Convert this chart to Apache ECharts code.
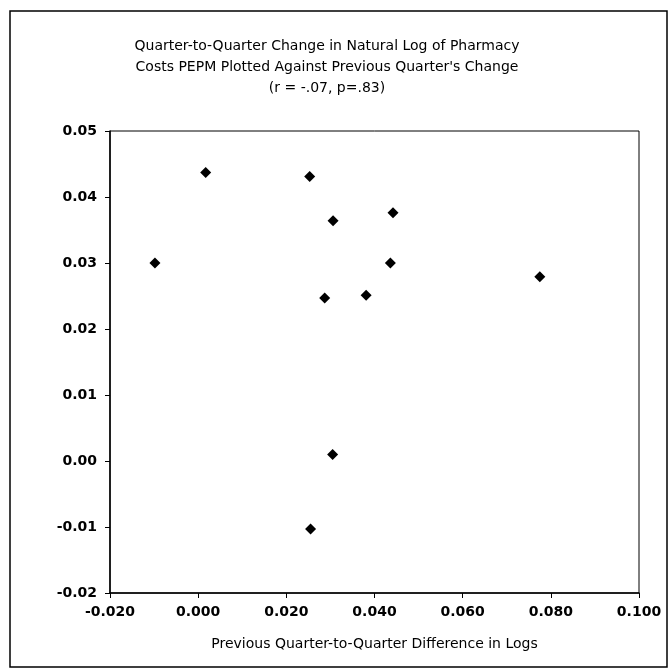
<!DOCTYPE html>
<html style="height: 100%">
    <head>
        <meta charset="utf-8">
    </head>
    <body style="height: 100%; margin: 0; background: #fff">
        <div id="container" style="width: 670px; height: 671px"></div>

        <script type="text/javascript" src="https://cdn.jsdelivr.net/npm/echarts@6/dist/echarts.min.js"></script>
        <script type="text/javascript">
// previous quarter's change (x) vs this quarter's change (y)
var prevChange = [-0.0098, 0.0017, 0.0253, 0.0306, 0.0442, 0.0436, 0.0287, 0.0381, 0.0775, 0.0305, 0.0255];
var currChange = [0.0300, 0.0437, 0.0431, 0.0364, 0.0376, 0.0300, 0.0247, 0.0251, 0.0279, 0.0010, -0.0103];

var titleLines = [
    'Quarter-to-Quarter Change in Natural Log of Pharmacy',
    "Costs PEPM Plotted Against Previous Quarter's Change",
    '(r = -.07, p=.83)'
];
var xTitle = 'Previous Quarter-to-Quarter Difference in Logs';

var points = prevChange.map(function (x, i) {
    return [x, currChange[i]];
});

var dom = document.getElementById("container");
var myChart = echarts.init(dom);

var font = 'DejaVu Sans, Verdana, sans-serif';

var option = {
    backgroundColor: '#fff',
    animation: false,
    title: {
        text: titleLines.join('\n'),
        left: 322,
        top: 31,
        textAlign: 'center',
        textStyle: {
            fontFamily: font,
            fontSize: 14,
            fontWeight: 'normal',
            color: '#000',
            lineHeight: 21
        }
    },
    graphic: [{
        type: 'rect',
        shape: { x: 10, y: 11, width: 657, height: 656 },
        style: { fill: null, stroke: '#000', lineWidth: 1.5 },
        silent: true
    }],
    grid: {
        left: 110,
        right: 31,
        top: 131,
        bottom: 78,
        show: true,
        borderColor: '#000',
        borderWidth: 1
    },
    xAxis: {
        type: 'value',
        min: -0.02,
        max: 0.1,
        interval: 0.02,
        name: xTitle,
        nameLocation: 'middle',
        nameGap: 44,
        nameTextStyle: {
            fontFamily: font,
            fontSize: 14,
            color: '#000'
        },
        axisLine: { show: true, onZero: false, lineStyle: { color: '#000', width: 1.5 } },
        axisTick: { show: true, length: 5, lineStyle: { color: '#000' } },
        splitLine: { show: false },
        axisLabel: {
            margin: 12,
            fontFamily: font,
            fontSize: 14,
            fontWeight: 'bold',
            color: '#000',
            formatter: function (v) { return v.toFixed(3); }
        }
    },
    yAxis: {
        type: 'value',
        min: -0.02,
        max: 0.05,
        interval: 0.01,
        axisLine: { show: true, onZero: false, lineStyle: { color: '#000', width: 1.5 } },
        axisTick: { show: true, length: 5, lineStyle: { color: '#000' } },
        splitLine: { show: false },
        axisLabel: {
            margin: 13,
            fontFamily: font,
            fontSize: 14,
            fontWeight: 'bold',
            color: '#000',
            formatter: function (v) { return v.toFixed(2); }
        }
    },
    series: [{
        type: 'scatter',
        data: points,
        symbol: 'diamond',
        symbolSize: 11,
        itemStyle: { color: '#000', opacity: 1 }
    }]
};

if (option && typeof option === 'object') {
    myChart.setOption(option);
}
        </script>
    </body>
</html>
